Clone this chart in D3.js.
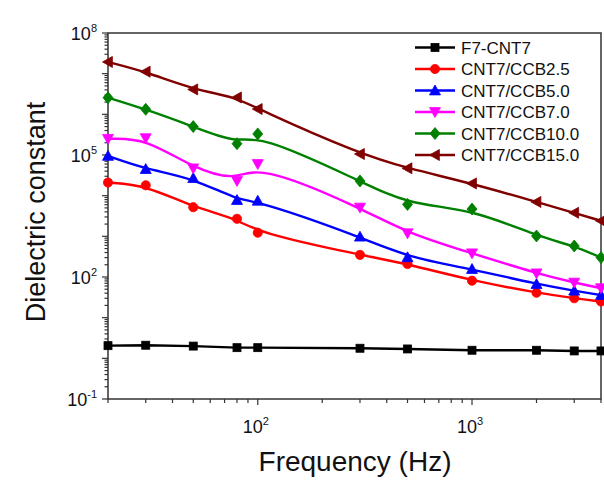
<!DOCTYPE html>
<html><head><meta charset="utf-8">
<script src="https://cdn.jsdelivr.net/npm/d3@7"></script>
<style>
html,body{margin:0;padding:0;background:#fff;}
svg{display:block;font-family:"Liberation Sans",Arial,sans-serif;}
</style></head>
<body>
<svg id="chart" width="604" height="486"></svg>
<script>
// ---- data ----
const freq = [20, 30, 50, 80, 100, 300, 500, 1000, 2000, 3000, 4000];
const seriesNames = ["F7-CNT7", "CNT7/CCB2.5", "CNT7/CCB5.0", "CNT7/CCB7.0", "CNT7/CCB10.0", "CNT7/CCB15.0"];
const f7cnt7  = [2.05, 2.1, 2.0, 1.83, 1.83, 1.77, 1.70, 1.58, 1.58, 1.52, 1.52];
const ccb2_5  = [2.1e4, 1.8e4, 5.2e3, 2.7e3, 1.23e3, 350, 209, 81, 41, 30, 25];
const ccb5_0  = [9.5e4, 4.5e4, 2.7e4, 7.8e3, 7.5e3, 980, 305, 157, 67, 46, 36];
const ccb7_0  = [2.5e5, 2.6e5, 4.7e4, 2.3e4, 6.0e4, 5.1e3, 1.19e3, 383, 123, 73, 53];
const ccb10_0 = [2.57e6, 1.33e6, 5.0e5, 1.9e5, 3.3e5, 2.3e4, 6.1e3, 4.7e3, 1.02e3, 580, 300];
const ccb15_0 = [1.94e7, 1.12e7, 4.1e6, 2.6e6, 1.35e6, 1.06e5, 4.7e4, 2.0e4, 7.0e3, 3.8e3, 2.4e3];
const xLabelExps = [2, 3];
const yLabelExps = [-1, 2, 5, 8];

// ---- styles ----
const colors = ["#000000", "#ff0000", "#0000ff", "#ff00ff", "#008000", "#800000"];
const symbols = ["square", "circle", "triUp", "triDown", "diamond", "triLeft"];
const allValues = [f7cnt7, ccb2_5, ccb5_0, ccb7_0, ccb10_0, ccb15_0];

const svg = d3.select("#chart");
const L = 108, R = 601, T = 33, B = 399;
const x = d3.scaleLog().domain([20, 4000]).range([L, R]);
const y = d3.scaleLog().domain([0.1, 1e8]).range([B, T]);
const axisColor = "#333";

// frame
svg.append("rect").attr("x", L).attr("y", T).attr("width", R - L).attr("height", B - T)
  .attr("fill", "none").attr("stroke", axisColor).attr("stroke-width", 1.5);

// x ticks
const xTicks = [];
for (let d = 10; d <= 1000; d *= 10) for (let m = 1; m <= 9; m++) {
  const v = m * d; if (v >= 20 && v <= 4000) xTicks.push(v);
}
const gx = svg.append("g");
gx.selectAll("line").data(xTicks).join("line")
  .attr("x1", d => x(d)).attr("x2", d => x(d))
  .attr("y1", B).attr("y2", d => B + (Math.log10(d) % 1 === 0 ? 6 : 4))
  .attr("stroke", axisColor).attr("stroke-width", 1.2);
const xl = gx.selectAll("text").data(xLabelExps).join("text")
  .attr("x", d => x(Math.pow(10, d)) - 2).attr("y", 433)
  .attr("text-anchor", "middle").attr("font-size", 18).attr("fill", "#111");
xl.append("tspan").text("10");
xl.append("tspan").attr("dy", -8).attr("font-size", 11).text(d => d);

// y ticks
const yTicks = [];
for (let e = -1; e <= 7; e++) for (let m = 1; m <= 9; m++) yTicks.push({v: m * Math.pow(10, e), major: m === 1});
yTicks.push({v: 1e8, major: true});
const gy = svg.append("g");
gy.selectAll("line").data(yTicks).join("line")
  .attr("x1", L).attr("x2", d => L - (d.major ? 6 : 3.5))
  .attr("y1", d => y(d.v)).attr("y2", d => y(d.v))
  .attr("stroke", axisColor).attr("stroke-width", 1.2);
const yl = gy.selectAll("text").data(yLabelExps).join("text")
  .attr("x", 97).attr("y", d => y(Math.pow(10, d)) + 7)
  .attr("text-anchor", "end").attr("font-size", 18).attr("fill", "#111");
yl.append("tspan").text("10");
yl.append("tspan").attr("dy", -8).attr("font-size", 11).text(d => d);

// axis titles
svg.append("text").attr("x", 355).attr("y", 471).attr("text-anchor", "middle")
  .attr("font-size", 28).attr("fill", "#111").text("Frequency (Hz)");
svg.append("text").attr("transform", "translate(45,212) rotate(-90)").attr("text-anchor", "middle")
  .attr("font-size", 27).attr("fill", "#111").text("Dielectric constant");

// symbol drawer
function drawSymbol(g, type, cx, cy, color) {
  let s;
  if (type === "square") s = g.append("rect").attr("x", cx - 4).attr("y", cy - 4).attr("width", 8).attr("height", 8);
  else if (type === "circle") s = g.append("circle").attr("cx", cx).attr("cy", cy).attr("r", 4.6);
  else {
    let pts;
    const a = 5.5;
    if (type === "triUp") pts = [[cx, cy - a], [cx + a, cy + a * 0.8], [cx - a, cy + a * 0.8]];
    if (type === "triDown") pts = [[cx, cy + a], [cx + a, cy - a * 0.8], [cx - a, cy - a * 0.8]];
    if (type === "triLeft") pts = [[cx - a, cy], [cx + a * 0.8, cy - a], [cx + a * 0.8, cy + a]];
    if (type === "diamond") pts = [[cx, cy - 6], [cx + 5, cy], [cx, cy + 6], [cx - 5, cy]];
    s = g.append("polygon").attr("points", pts.map(p => p.join(",")).join(" "));
  }
  s.attr("fill", color).attr("stroke", color).attr("stroke-width", 0.8);
}

// series
allValues.forEach((vals, i) => {
  const pts = freq.map((f, j) => [x(f), y(vals[j])]);
  const line = d3.line().curve(i === 0 ? d3.curveLinear : d3.curveBasis);
  const g = svg.append("g");
  g.append("path").attr("d", line(pts)).attr("fill", "none")
    .attr("stroke", colors[i]).attr("stroke-width", 2.4);
  pts.forEach(p => drawSymbol(g, symbols[i], p[0], p[1], colors[i]));
});

// legend
const lg = svg.append("g");
seriesNames.forEach((name, i) => {
  const ly = 47.5 + i * 21.5;
  lg.append("line").attr("x1", 415).attr("x2", 455).attr("y1", ly).attr("y2", ly)
    .attr("stroke", colors[i]).attr("stroke-width", 2.4);
  drawSymbol(lg, symbols[i], 435, ly, colors[i]);
  lg.append("text").attr("x", 461).attr("y", ly + 6).attr("font-size", 17).attr("fill", "#111").text(name);
});
</script>
</body></html>
